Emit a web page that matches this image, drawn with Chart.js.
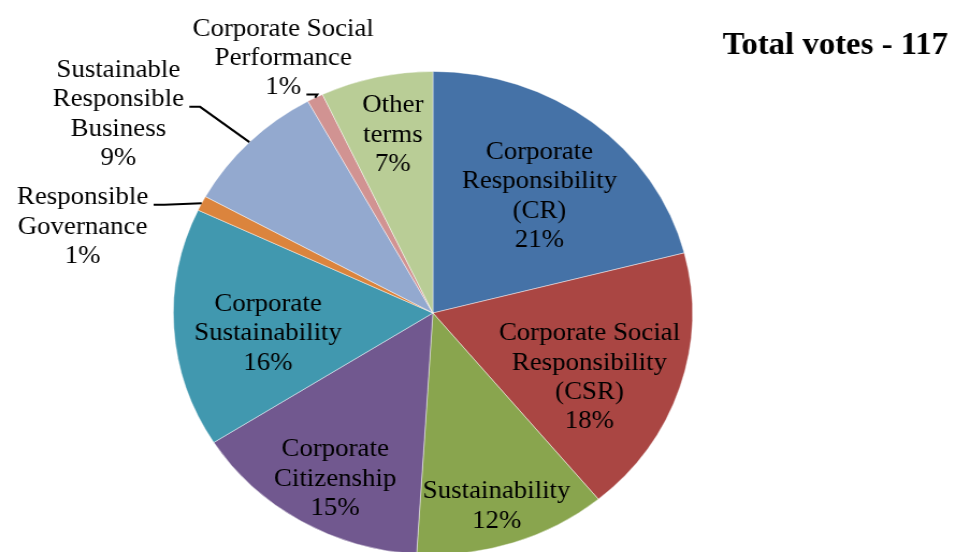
<!DOCTYPE html>
<html>
<head>
<meta charset="utf-8">
<script src="https://cdn.jsdelivr.net/npm/chart.js@4.4.1/dist/chart.umd.min.js"></script>
<style>
  html, body { margin: 0; padding: 0; background: #fff; overflow: hidden; }
  /* the source image is stretched a little horizontally, so we draw narrower and scale */
  #clip { width: 955px; height: 552px; overflow: hidden; }
  #wrap { width: 889px; height: 560px; transform: scaleX(1.0742); transform-origin: 0 0; }
</style>
</head>
<body>
<div id="clip"><div id="wrap"><canvas id="c" width="889" height="560"></canvas></div></div>
<script>
// ── Data ───────────────────────────────────────────────────────────────────────
const terms = [
  ['Corporate', 'Responsibility', '(CR)'],
  ['Corporate Social', 'Responsibility', '(CSR)'],
  ['Sustainability'],
  ['Corporate', 'Citizenship'],
  ['Corporate', 'Sustainability'],
  ['Responsible', 'Governance'],
  ['Sustainable', 'Responsible', 'Business'],
  ['Corporate Social', 'Performance'],
  ['Other', 'terms']
];
const shares = [21, 18, 12, 15, 16, 1, 9, 1, 7];
const totalVotes = 117;

// ── Theme ──────────────────────────────────────────────────────────────────────
const C = {
  slices: ['#4572A7', '#AA4643', '#89A54E', '#71588F', '#4198AF', '#DB843D', '#93A9CF', '#D19392', '#B9CD96'],
  text: '#000',
  font: "'Liberation Serif', 'Times New Roman', serif"
};

// label placement: [angle from 12 o'clock in degrees, distance as share of radius]
const place = [
  [39.9, 0.64], [113.3, 0.657], [162.8, 0.83], [209, 0.777], [263, 0.64],
  [285.1, 1.398], [304.4, 1.469], [331.5, 1.209], [348.3, 0.76]
];
// outside labels get a leader line from this text line
const leader = { 5: 0, 6: 1, 7: 2 };

const labelPlugin = {
  id: 'sliceLabels',
  afterDatasetsDraw(chart) {
    const ctx = chart.ctx;
    const meta = chart.getDatasetMeta(0);
    const lh = 29.3;
    ctx.save();
    ctx.fillStyle = C.text;
    ctx.strokeStyle = C.text;
    ctx.font = '25px ' + C.font;
    ctx.textAlign = 'center';
    ctx.textBaseline = 'middle';
    meta.data.forEach((arc, i) => {
      const p = arc.getProps(['x', 'y', 'outerRadius', 'startAngle', 'endAngle'], true);
      const a = place[i][0] * Math.PI / 180;
      const cx = p.x + Math.sin(a) * p.outerRadius * place[i][1];
      const cy = p.y - Math.cos(a) * p.outerRadius * place[i][1] + 2;
      const lines = [...terms[i], shares[i] + '%'];
      const top = cy - (lines.length - 1) * lh / 2;
      lines.forEach((t, k) => ctx.fillText(t, cx, top + k * lh));
      if (i in leader) {
        const k = leader[i];
        const m = (p.startAngle + p.endAngle) / 2;
        const px = p.x + Math.cos(m) * p.outerRadius;
        const py = p.y + Math.sin(m) * p.outerRadius;
        const lx = cx + ctx.measureText(lines[k]).width / 2 + 5;
        const ly = top + k * lh + 7;
        ctx.lineWidth = 2;
        ctx.beginPath();
        ctx.moveTo(lx, ly);
        ctx.lineTo(lx + 10, ly);
        ctx.lineTo(px, py);
        ctx.stroke();
      }
    });
    ctx.font = 'bold 30.5px ' + C.font;
    ctx.textAlign = 'right';
    ctx.textBaseline = 'alphabetic';
    ctx.fillText('Total votes - ' + totalVotes, 882.5, 54);
    ctx.restore();
  }
};

new Chart(document.getElementById('c'), {
  type: 'pie',
  data: {
    labels: terms.map(t => t.join(' ')),
    datasets: [{
      data: shares,
      backgroundColor: C.slices,
      borderColor: 'rgba(255,255,255,0.55)',
      borderWidth: 0.8
    }]
  },
  options: {
    responsive: false,
    animation: false,
    layout: { padding: { left: 161, right: 244, top: 71, bottom: 5 } },
    plugins: { legend: { display: false }, tooltip: { enabled: false } }
  },
  plugins: [labelPlugin]
});
</script>
</body>
</html>
